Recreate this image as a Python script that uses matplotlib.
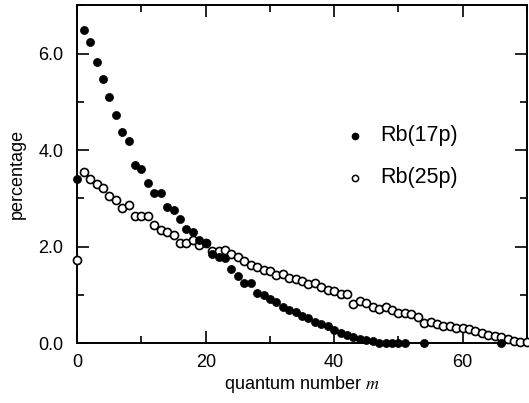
import matplotlib
matplotlib.use("Agg")
import matplotlib.pyplot as plt
from matplotlib.ticker import MultipleLocator, FormatStrFormatter

plt.rcParams['font.family'] = ['Liberation Sans', 'DejaVu Sans']
plt.rcParams['mathtext.fontset'] = 'stix'

# Rb(17p) — filled circles
m17 = list(range(0, 52)) + [54, 66]
p17 = [3.40, 6.49, 6.24, 5.83, 5.47, 5.09, 4.72, 4.38, 4.18, 3.69,
       3.60, 3.33, 3.12, 3.11, 2.82, 2.76, 2.57, 2.36, 2.30, 2.15,
       2.07, 1.84, 1.78, 1.76, 1.54, 1.39, 1.25, 1.24, 1.05, 1.00,
       0.92, 0.85, 0.75, 0.69, 0.64, 0.57, 0.52, 0.45, 0.40, 0.35,
       0.27, 0.22, 0.17, 0.14, 0.10, 0.07, 0.05, 0.01, 0.00, 0.00,
       0.00, 0.00, 0.00, 0.00]

# Rb(25p) — open circles
m25 = list(range(0, 71))
p25 = [1.72, 3.54, 3.40, 3.30, 3.22, 3.05, 2.97, 2.80, 2.86, 2.64,
       2.64, 2.64, 2.44, 2.35, 2.31, 2.24, 2.08, 2.07, 2.15, 2.03,
       2.08, 1.91, 1.91, 1.94, 1.86, 1.79, 1.70, 1.62, 1.59, 1.51,
       1.50, 1.42, 1.43, 1.35, 1.34, 1.30, 1.23, 1.24, 1.16, 1.10,
       1.09, 1.03, 1.02, 0.81, 0.87, 0.83, 0.76, 0.72, 0.75, 0.69,
       0.62, 0.62, 0.60, 0.55, 0.43, 0.44, 0.40, 0.36, 0.36, 0.31,
       0.31, 0.30, 0.26, 0.21, 0.17, 0.15, 0.125, 0.10, 0.05, 0.03,
       0.02]

x_ticks = [0, 20, 40, 60]
y_ticks = [0.0, 2.0, 4.0, 6.0]

fig = plt.figure(figsize=(5.29, 4.03), dpi=100)
ax = fig.add_axes([0.146, 0.148, 0.850, 0.839])

ax.plot(m25, p25, linestyle='none', marker='o', markersize=5.8,
        markerfacecolor='white', markeredgecolor='black', markeredgewidth=1.2,
        clip_on=False, zorder=3)
ax.plot(m17, p17, linestyle='none', marker='o', markersize=5.8,
        markerfacecolor='black', markeredgecolor='black', markeredgewidth=0.5,
        clip_on=False, zorder=4)

ax.set_xlim(0, 70)
ax.set_ylim(0, 7.0)
ax.set_xticks(x_ticks)
ax.set_yticks(y_ticks)
ax.xaxis.set_minor_locator(MultipleLocator(10))
ax.yaxis.set_minor_locator(MultipleLocator(1.0))
ax.yaxis.set_major_formatter(FormatStrFormatter('%.1f'))

ax.tick_params(which='both', direction='in', top=True, right=True,
               labelsize=13, width=1.2, colors='black')
ax.tick_params(which='major', length=8.5)
ax.tick_params(which='minor', length=5.3)
ax.tick_params(axis='y', which='major', pad=10)
ax.tick_params(axis='x', which='major', pad=7.5)
for s in ax.spines.values():
    s.set_linewidth(1.4)

ax.set_xlabel('quantum number $m$', fontsize=13, labelpad=2)
ax.set_ylabel('percentage', fontsize=13, labelpad=9)

# legend-like annotation
ax.plot([43.2], [4.3], linestyle='none', marker='o', markersize=4.5,
        markerfacecolor='black', markeredgecolor='black')
ax.plot([43.2], [3.43], linestyle='none', marker='o', markersize=4.5,
        markerfacecolor='white', markeredgecolor='black', markeredgewidth=1.1)
ax.text(47.2, 4.3, 'Rb(17p)', fontsize=15.5, va='center', ha='left')
ax.text(47.2, 3.43, 'Rb(25p)', fontsize=15.5, va='center', ha='left')

fig.savefig('out.png', dpi=100)
